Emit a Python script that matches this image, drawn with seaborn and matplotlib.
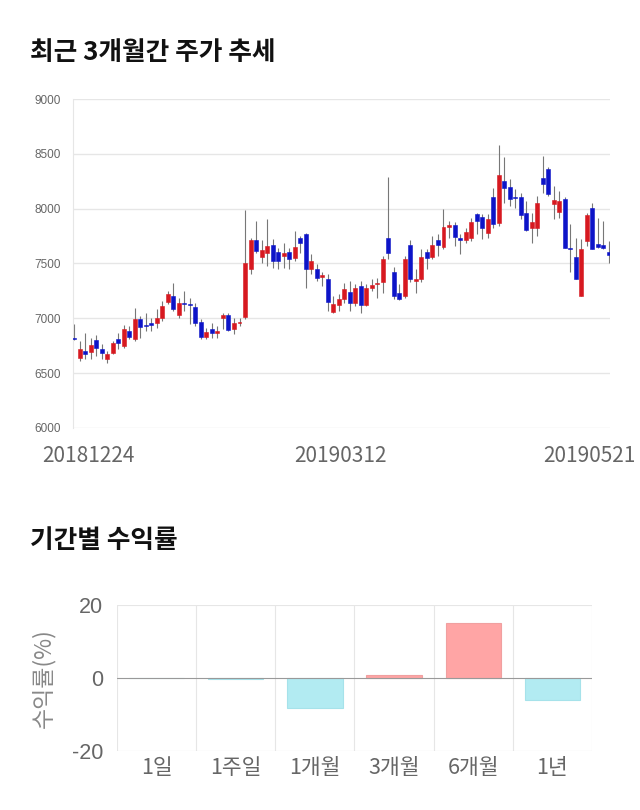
import numpy as np
import pandas as pd
import seaborn as sns
import matplotlib.pyplot as plt
import matplotlib.transforms as mtransforms

# ============================================================
# DATA
# ============================================================

opens = [6820, 6640, 6700, 6695, 6805, 6722, 6625, 6686, 6814, 6744,
         6881, 6814, 6997, 6936, 6954, 6954, 7006, 7152, 7204, 7030,
         7135, 7128, 7107, 6966, 6832, 6906, 6863, 7000, 7033, 6902,
         6954, 7012, 7447, 7715, 7563, 7593, 7666, 7605, 7566, 7605,
         7554, 7733, 7772, 7448, 7448, 7378, 7357, 7061, 7122, 7174,
         7241, 7143, 7296, 7122, 7274, 7313, 7332, 7737, 7423, 7235,
         7204, 7667, 7336, 7356, 7606, 7555, 7715, 7651, 7837, 7855,
         7737, 7715, 7728, 7950, 7920, 7774, 8102, 7865, 8253, 8202,
         8105, 8102, 7959, 7822, 7822, 8284, 8366, 8047, 7970, 8086,
         7640, 7560, 7204, 7706, 8004, 7682, 7673, 7606]
closes = [6810, 6716, 6677, 6753, 6725, 6686, 6677, 6774, 6771, 6905,
          6832, 6997, 6924, 6930, 6939, 7006, 7113, 7226, 7082, 7143,
          7128, 7122, 6960, 6832, 6875, 6866, 6887, 7033, 6896, 6954,
          6969, 7503, 7715, 7614, 7623, 7657, 7523, 7523, 7599, 7538,
          7654, 7684, 7447, 7524, 7372, 7396, 7152, 7128, 7174, 7265,
          7143, 7274, 7122, 7274, 7305, 7320, 7540, 7594, 7204, 7180,
          7545, 7356, 7356, 7557, 7551, 7667, 7667, 7837, 7855, 7746,
          7715, 7783, 7874, 7883, 7822, 7904, 7858, 8305, 8193, 8086,
          8098, 7943, 7806, 7880, 8056, 8223, 8132, 8077, 8071, 7637,
          7634, 7357, 7630, 7943, 7630, 7651, 7637, 7582]
highs = [6950, 6793, 6863, 6823, 6844, 6762, 6698, 6793, 6869, 6936,
         6930, 7098, 7021, 7052, 7006, 7082, 7159, 7250, 7326, 7189,
         7250, 7189, 7143, 6991, 6915, 6960, 6930, 7052, 7052, 7006,
         7006, 7985, 7736, 7888, 7718, 7903, 7721, 7645, 7690, 7645,
         7797, 7751, 7781, 7585, 7494, 7418, 7402, 7204, 7220, 7326,
         7341, 7311, 7341, 7311, 7357, 7372, 7570, 8293, 7466, 7311,
         7570, 7710, 7448, 7630, 7630, 7752, 7767, 7995, 7888, 7874,
         7767, 7828, 7919, 7965, 7950, 7950, 8193, 8585, 8467, 8269,
         8177, 8147, 8071, 7965, 8117, 8481, 8376, 8208, 8162, 8102,
         7858, 7728, 7721, 7965, 8056, 7919, 7888, 7706]
lows = [6800, 6610, 6625, 6631, 6661, 6631, 6591, 6671, 6716, 6732,
        6808, 6793, 6823, 6884, 6884, 6915, 6976, 7128, 7067, 7006,
        7067, 6945, 6930, 6808, 6808, 6823, 6823, 6900, 6884, 6854,
        6930, 6990, 7402, 7599, 7508, 7478, 7463, 7447, 7463, 7447,
        7523, 7599, 7280, 7402, 7341, 7296, 7067, 7052, 7067, 7143,
        7067, 7113, 7052, 7113, 7250, 7189, 7235, 7539, 7174, 7168,
        7189, 7330, 7235, 7330, 7448, 7539, 7570, 7630, 7737, 7660,
        7585, 7691, 7706, 7767, 7721, 7737, 7828, 7843, 8056, 8025,
        8010, 7904, 7797, 7691, 7752, 8147, 8117, 7904, 7919, 7637,
        7418, 7357, 7204, 7660, 7630, 7645, 7630, 7509]

date_ticks = [0, 49, 97]
date_labels = ['20181224', '20190312', '20190521']
price_ticks = [6000, 6500, 7000, 7500, 8000, 8500, 9000]

periods = ['1일', '1주일', '1개월', '3개월', '6개월', '1년']
returns = [0.0, -0.3, -8.3, 0.7, 15.0, -6.0]

# ============================================================
# STYLE
# ============================================================

sns.set_style('white')
plt.rcParams['font.family'] = ['Noto Sans CJK KR', 'DejaVu Sans']

up_color = '#d71920'
down_color = '#0d14c8'
grid_color = '#e6e6e6'
text_color = '#666666'

fig = plt.figure(figsize=(6.4, 8.1), dpi=100)

# ============================================================
# 1. CANDLESTICK CHART
# ============================================================

fig.text(30 / 640, 1 - 52 / 810, '최근 3개월간 주가 추세', fontsize=18.5,
         fontweight='bold', color='#111111', va='center', ha='left')

ax1 = fig.add_axes([73 / 640, 1 - 428 / 810, 537 / 640, 329 / 810])

df = pd.DataFrame({'open': opens, 'close': closes, 'high': highs, 'low': lows})
df['idx'] = np.arange(len(df))
df['up'] = df['close'] >= df['open']
df['bottom'] = df[['open', 'close']].min(axis=1)
df['height'] = (df['close'] - df['open']).abs().clip(lower=10)
colors = np.where(df['up'], up_color, down_color)

ax1.vlines(df['idx'], df['low'], df['high'], color='#777777', linewidth=0.8, zorder=2)
ax1.bar(df['idx'], df['height'], bottom=df['bottom'], width=0.72,
        color=colors, edgecolor=colors, linewidth=0.4, zorder=3)

ax1.set_xlim(-0.2, 97.2)
ax1.set_ylim(6000, 9000)
ax1.set_yticks(price_ticks)
ax1.set_yticklabels([str(t) for t in price_ticks], fontsize=8.5,
                    color=text_color, family=['Liberation Sans', 'DejaVu Sans'])
ax1.set_xticks(date_ticks)
ax1.set_xticklabels(date_labels, fontsize=15, color=text_color)
ax1.tick_params(axis='both', length=0)
ax1.tick_params(axis='x', pad=12)
ax1.tick_params(axis='y', pad=9)
ax1.grid(axis='y', color=grid_color, linewidth=1)
for spine in ['top', 'right', 'bottom']:
    ax1.spines[spine].set_visible(False)
ax1.spines['left'].set_color(grid_color)

# shift first and last date labels like the original
shifts = [14, -4, -20]
for lab, dx in zip(ax1.get_xticklabels(), shifts):
    offset = mtransforms.ScaledTranslation(dx / 100, 0, fig.dpi_scale_trans)
    lab.set_transform(lab.get_transform() + offset)

# ============================================================
# 2. RETURN BAR CHART
# ============================================================

fig.text(30 / 640, 1 - 541 / 810, '기간별 수익률', fontsize=18.5,
         fontweight='bold', color='#111111', va='center', ha='left')

ax2 = fig.add_axes([117 / 640, 1 - 751 / 810, 475 / 640, 146 / 810])

ret_df = pd.DataFrame({'period': periods, 'ret': returns})
bar_colors = ['#ffa5a5' if r > 0 else '#b2ebf2' for r in returns]
edge_colors = ['#f0a0a0' if r > 0 else '#a6e2ea' for r in returns]

sns.barplot(data=ret_df, x='period', y='ret', hue='period', palette=bar_colors,
            legend=False, width=0.7, saturation=1, ax=ax2, zorder=3)
for patch, ec in zip(ax2.patches, edge_colors):
    patch.set_edgecolor(ec)
    patch.set_linewidth(0.8)

ax2.set_ylim(-20, 20)
ax2.set_xlim(-0.5, 5.5)
ax2.set_yticks([-20, 0, 20])
ax2.set_yticklabels(['-20', '0', '20'], fontsize=15.5, color=text_color,
                    family=['Liberation Sans', 'DejaVu Sans'])
ax2.set_xticks(range(len(periods)))
ax2.set_xticklabels(periods, fontsize=15.5, color=text_color)
ax2.set_xlabel('')
ax2.set_ylabel('수익률(%)', fontsize=16.5, color='#888888', labelpad=12)
ax2.tick_params(axis='both', length=0)
ax2.tick_params(axis='x', pad=4)
ax2.tick_params(axis='y', pad=10)

ax2.grid(False)
for b in np.arange(-0.5, 6.0, 1.0):
    ax2.axvline(b, color=grid_color, linewidth=0.8, zorder=1)
ax2.axhline(20, color=grid_color, linewidth=0.8, zorder=1)
ax2.axhline(-20, color='#cccccc', linewidth=0.8, zorder=1)
ax2.axhline(0, color='#999999', linewidth=0.8, zorder=4)
for spine in ax2.spines.values():
    spine.set_visible(False)

fig.savefig('out.png', dpi=100)
